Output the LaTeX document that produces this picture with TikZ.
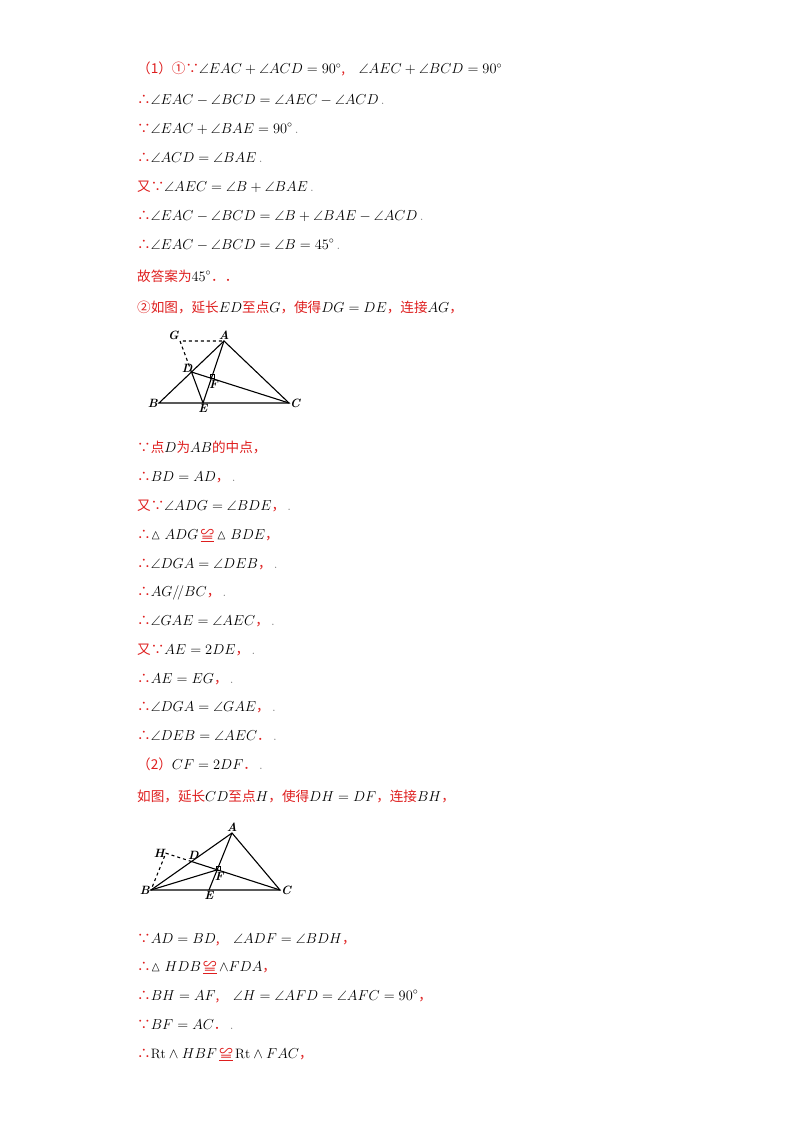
\documentclass[tikz,border=0pt]{standalone}
\usepackage{amssymb}
\usepackage{fontspec}
\usetikzlibrary{calc}
\newfontfamily\cjk{Noto Sans CJK SC}
\definecolor{ansred}{RGB}{222,30,30}
\tikzset{
  line/.style={anchor=base west,inner sep=0pt,font=\fontsize{13.6}{16}\selectfont},
  pt/.style={font=\bfseries\itshape\fontsize{12}{14}\selectfont,inner sep=1pt},
  seg/.style={line width=1.1pt}
}
\newcommand{\rd}[1]{\textcolor{ansred}{\cjk #1}}
\newcommand{\dt}{\textcolor{gray}{\,.}}
\begin{document}
\begin{tikzpicture}[x=1pt,y=-1pt]
    \useasboundingbox (0,0) rectangle (800,1132);

    % Part (1)
    \node[line] (l1) at (137,74) {\rd{（1）①∵}$\angle EAC+\angle ACD=90^\circ$\rd{,}\quad $\angle AEC+\angle BCD=90^\circ$};
    \node[line] (l2) at (137,104) {\rd{∴}$\angle EAC-\angle BCD=\angle AEC-\angle ACD$\dt};
    \node[line] (l3) at (137,133) {\rd{∵}$\angle EAC+\angle BAE=90^\circ$\dt};
    \node[line] (l4) at (137,162) {\rd{∴}$\angle ACD=\angle BAE$\dt};
    \node[line] (l5) at (137,191) {\rd{又∵}$\angle AEC=\angle B+\angle BAE$\dt};
    \node[line] (l6) at (137,220) {\rd{∴}$\angle EAC-\angle BCD=\angle B+\angle BAE-\angle ACD$\dt};
    \node[line] (l7) at (137,249) {\rd{∴}$\angle EAC-\angle BCD=\angle B=45^\circ$\dt};
    \node[line] (l8) at (137,281) {\rd{故答案为}$45^\circ$\rd{．．}};
    \node[line] (l9) at (137,312) {\rd{②如图，延长}$ED$\rd{至点}$G$\rd{，使得}$DG=DE$\rd{，连接}$AG$\rd{，}};

    % Figure 1
    \coordinate (A1) at (224,341);
    \coordinate (B1) at (159,403);
    \coordinate (C1) at (289,403);
    \coordinate (E1) at (203,403);
    \coordinate (D1) at ($(A1)!0.5!(B1)$);
    \coordinate (G1) at ($(D1)!-1!(E1)$);
    \coordinate (F1) at (intersection of A1--E1 and D1--C1);
    \draw[seg] (A1) -- (B1) -- (C1) -- cycle;
    \draw[seg] (A1) -- (E1) -- (D1) -- (C1);
    \draw[seg,dashed] (D1) -- (G1) -- (A1);
    \draw[line width=0.6pt] ($(F1)+(-1,-4)$) rectangle ($(F1)+(3,0)$);
    \node[pt,above left] (GL) at (G1) {G};
    \node[pt,above] (AL) at (A1) {A};
    \node[pt,above left] (DL) at ($(D1)+(2,2)$) {D};
    \node[pt,left] (BL) at (B1) {B};
    \node[pt,below] (EL) at (E1) {E};
    \node[pt,right] (CL) at (C1) {C};
    \node[pt,below] (FL) at ($(F1)+(2,1)$) {F};

    % Part (1) continued
    \node[line] (m1) at (137,452) {\rd{∵点}$D$\rd{为}$AB$\rd{的中点，}};
    \node[line] (m2) at (137,481) {\rd{∴}$BD=AD$\rd{，}\dt};
    \node[line] (m3) at (137,510) {\rd{又∵}$\angle ADG=\angle BDE$\rd{，}\dt};
    \node[line] (m4) at (137,539) {\rd{∴}$\vartriangle ADG$\,\rd{\underline{≌}}\,$\vartriangle BDE$\rd{，}};
    \node[line] (m5) at (137,568) {\rd{∴}$\angle DGA=\angle DEB$\rd{，}\dt};
    \node[line] (m6) at (137,596) {\rd{∴}$AG/\!/BC$\rd{，}\dt};
    \node[line] (m7) at (137,625) {\rd{∴}$\angle GAE=\angle AEC$\rd{，}\dt};
    \node[line] (m8) at (137,654) {\rd{又∵}$AE=2DE$\rd{，}\dt};
    \node[line] (m9) at (137,683) {\rd{∴}$AE=EG$\rd{，}\dt};
    \node[line] (m10) at (137,711) {\rd{∴}$\angle DGA=\angle GAE$\rd{，}\dt};
    \node[line] (m11) at (137,740) {\rd{∴}$\angle DEB=\angle AEC$\rd{．}\dt};
    \node[line] (m12) at (137,769) {\rd{（2）}$CF=2DF$\rd{．}\dt};
    \node[line] (m13) at (137,801) {\rd{如图，延长}$CD$\rd{至点}$H$\rd{，使得}$DH=DF$\rd{，连接}$BH$\rd{，}};

    % Figure 2
    \coordinate (A2) at (232,833);
    \coordinate (B2) at (151,890);
    \coordinate (C2) at (280,890);
    \coordinate (E2) at (209,890);
    \coordinate (D2) at ($(A2)!0.5!(B2)$);
    \coordinate (F2) at (intersection of A2--E2 and D2--C2);
    \coordinate (H2) at ($(D2)!-1!(F2)$);
    \draw[seg] (A2) -- (B2) -- (C2) -- cycle;
    \draw[seg] (A2) -- (E2);
    \draw[seg] (D2) -- (C2);
    \draw[seg] (B2) -- (F2);
    \draw[seg,dashed] (D2) -- (H2) -- (B2);
    \node[pt,above] (AL2) at (A2) {A};
    \node[pt,above] (DL2) at ($(D2)+(2,-1)$) {D};
    \node[pt,left] (HL2) at (H2) {H};
    \node[pt,left] (BL2) at (B2) {B};
    \node[pt,below] (EL2) at (E2) {E};
    \node[pt,right] (CL2) at (C2) {C};
    \node[pt,below] (FL2) at ($(F2)+(2,1)$) {F};
    \draw[line width=0.6pt] ($(F2)+(-1,-4)$) rectangle ($(F2)+(3,0)$);

    % Part (2) continued
    \node[line] (n1) at (137,943) {\rd{∵}$AD=BD$\rd{,}\quad $\angle ADF=\angle BDH$\rd{，}};
    \node[line] (n2) at (137,971) {\rd{∴}$\vartriangle HDB$\,\rd{\underline{≌}}\,$\wedge FDA$\rd{，}};
    \node[line] (n3) at (137,1000) {\rd{∴}$BH=AF$\rd{,}\quad $\angle H=\angle AFD=\angle AFC=90^\circ$\rd{，}};
    \node[line] (n4) at (137,1029) {\rd{∵}$BF=AC$\rd{．}\dt};
    \node[line] (n5) at (137,1058) {\rd{∴}$\mathrm{Rt}\wedge HBF$\,\rd{\underline{≌}}\,$\mathrm{Rt}\wedge FAC$\rd{，}};
\end{tikzpicture}
\end{document}
